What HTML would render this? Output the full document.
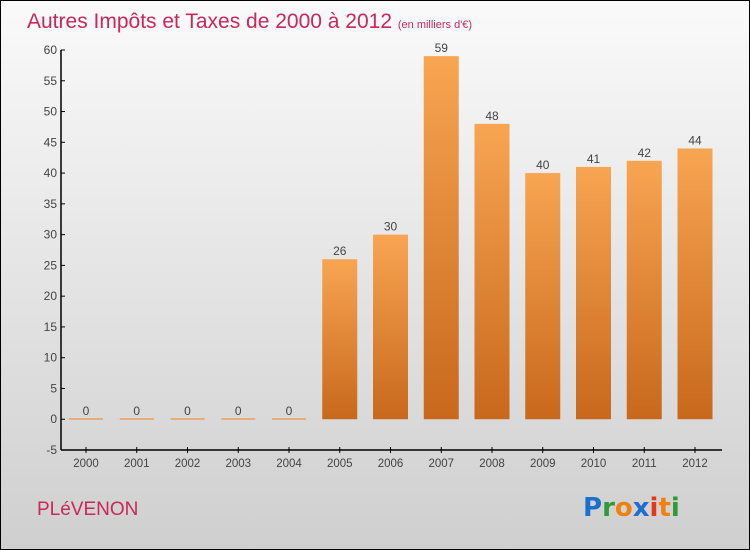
<!DOCTYPE html>
<html><head><meta charset="utf-8"><style>
body{margin:0}
#wrap{position:relative;width:748px;height:548px;border:1px solid #000;background:linear-gradient(#fafafa,#cfcfcf);font-family:"Liberation Sans","DejaVu Sans",sans-serif;overflow:hidden}
</style></head><body>
<div id="wrap">
<svg id="chart" width="748" height="548">
<defs><linearGradient id="bg" x1="0" y1="0" x2="0" y2="1"><stop offset="0" stop-color="#f8a552"/><stop offset="1" stop-color="#c8681c"/></linearGradient></defs>
<text x="26" y="27" font-size="21" fill="#c8285a">Autres Impôts et Taxes de 2000 à 2012 <tspan font-size="11">(en milliers d'€)</tspan></text>
<text x="36" y="514" font-size="19" fill="#c8285a">PLéVENON</text>
<g font-size="26" font-weight="bold" font-family="'DejaVu Sans',sans-serif">
<text x="582" y="515"><tspan fill="#1a6fcf">P</tspan><tspan fill="#2e9a3a">r</tspan><tspan fill="#f08010">o</tspan><tspan fill="#1a6fcf">x</tspan><tspan fill="#e03a1a">i</tspan><tspan fill="#f08010">t</tspan><tspan fill="#2e9a3a">i</tspan></text></g>
<g id="axes"></g><g id="bars"></g>
</svg></div>
<script>
const categories=["2000","2001","2002","2003","2004","2005","2006","2007","2008","2009","2010","2011","2012"];
const values=[0,0,0,0,0,26,30,59,48,40,41,42,44];
const yTicks=[-5,0,5,10,15,20,25,30,35,40,45,50,55,60];
const NS="http://www.w3.org/2000/svg";
const y=v=>449-(v+5)*400/65;
const x=i=>85+i*50.75;
function mk(t,a,p){const e=document.createElementNS(NS,t);for(const k in a)e.setAttribute(k,a[k]);p.appendChild(e);return e;}
const ax=document.getElementById('axes'),bs=document.getElementById('bars');
const yl=mk('line',{x1:60,y1:49,x2:60,y2:449,stroke:'#000','stroke-width':1.5},ax);


const xl=mk('line',{x1:60,y1:449,x2:721,y2:449,stroke:'#000','stroke-width':1.5},ax);


yTicks.forEach(v=>{mk('line',{x1:60,x2:64,y1:y(v),y2:y(v),stroke:'#000'},ax);
const t=mk('text',{x:56,y:y(v)+4,'text-anchor':'end','font-size':12,fill:'#444'},ax);t.textContent=v;

});
categories.forEach((c,i)=>{const cx=x(i);
mk('line',{x1:cx,x2:cx,y1:446,y2:452,stroke:'#000'},ax);
const t=mk('text',{x:cx,y:466,'text-anchor':'middle','font-size':11.5,fill:'#444'},ax);t.textContent=c;


const v=values[i];let r;
if(v===0){r=mk('rect',{x:cx-17,y:y(0)-1,width:34,height:1.5,fill:'#e8a060'},bs);}
else{r=mk('rect',{x:cx-17.5,y:y(v),width:35,height:y(0)-y(v),fill:'url(#bg)'},bs);}


const l=mk('text',{x:cx,y:y(v)-4,'text-anchor':'middle','font-size':12,fill:'#444'},bs);l.textContent=v;

});
</script>
</body></html>
